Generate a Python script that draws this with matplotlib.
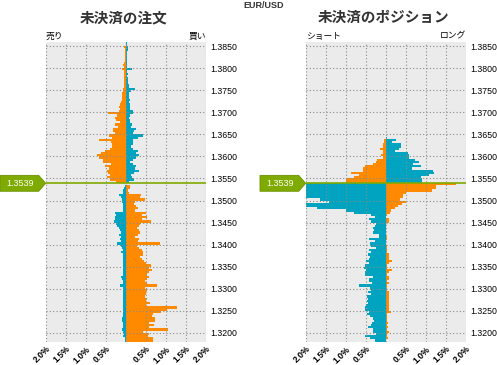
import numpy as np
import matplotlib.pyplot as plt
from matplotlib.patches import Polygon
from matplotlib.transforms import blended_transform_factory

plt.rcParams['font.family'] = ['Noto Sans CJK JP', 'DejaVu Sans']

# price bins of 0.0005, listed from the top of the chart (1.3860) downwards
top_price = 1.3860
step = 0.0005
current = 1.3539

# open orders, % (left = sell side, right = buy side)
order_sell = [
    0.00, 0.00, 0.04, 0.02, 0.03, 0.03, 0.03, 0.03, 0.03, 0.04,
    0.07, 0.05, 0.09, 0.04, 0.04, 0.04, 0.04, 0.04, 0.05, 0.04,
    0.05, 0.06, 0.07, 0.09, 0.09, 0.10, 0.10, 0.11, 0.15, 0.16,
    0.14, 0.16, 0.44, 0.22, 0.27, 0.25, 0.15, 0.27, 0.19, 0.32,
    0.32, 0.27, 0.41, 0.35, 0.66, 0.37, 0.35, 0.35, 0.40, 0.53,
    0.62, 0.72, 0.67, 0.58, 0.56, 0.37, 0.52, 0.43, 0.47, 0.45,
    0.40, 0.46, 0.39, 0.24, 0.00, 0.02, 0.04, 0.06, 0.08, 0.17,
    0.13, 0.10, 0.10, 0.06, 0.06, 0.08, 0.06, 0.27, 0.25, 0.27,
    0.28, 0.29, 0.25, 0.23, 0.16, 0.14, 0.12, 0.16, 0.12, 0.14,
    0.12, 0.21, 0.12, 0.10, 0.08, 0.12, 0.08, 0.06, 0.06, 0.08,
    0.06, 0.08, 0.06, 0.06, 0.06, 0.06, 0.13, 0.10, 0.08, 0.06,
    0.14, 0.08, 0.08, 0.06, 0.06, 0.06, 0.06, 0.06, 0.06, 0.06,
    0.08, 0.06, 0.06, 0.06, 0.06, 0.09, 0.09, 0.08, 0.06, 0.07,
    0.09, 0.06, 0.04, 0.06, 0.03, 0.03]
order_buy = [
    0.03, 0.04, 0.05, 0.05, 0.02, 0.02, 0.02, 0.02, 0.03, 0.02,
    0.03, 0.02, 0.15, 0.04, 0.05, 0.04, 0.06, 0.05, 0.06, 0.07,
    0.08, 0.23, 0.13, 0.09, 0.08, 0.09, 0.10, 0.09, 0.10, 0.11,
    0.10, 0.18, 0.17, 0.11, 0.09, 0.11, 0.10, 0.15, 0.14, 0.26,
    0.20, 0.18, 0.44, 0.30, 0.19, 0.17, 0.17, 0.13, 0.18, 0.30,
    0.25, 0.34, 0.25, 0.18, 0.11, 0.18, 0.26, 0.23, 0.33, 0.20,
    0.14, 0.16, 0.20, 0.07, 0.00, 0.11, 0.11, 0.05, 0.08, 0.38,
    0.36, 0.48, 0.23, 0.21, 0.26, 0.30, 0.23, 0.50, 0.40, 0.52,
    0.40, 0.63, 0.36, 0.33, 0.28, 0.34, 0.36, 0.30, 0.23, 0.32,
    0.30, 0.86, 0.29, 0.32, 0.40, 0.44, 0.43, 0.36, 0.40, 0.46,
    0.51, 0.63, 0.57, 0.65, 0.57, 0.54, 0.57, 0.53, 0.48, 0.53,
    0.78, 0.48, 0.54, 0.51, 0.50, 0.48, 0.53, 0.51, 0.61, 0.51,
    1.28, 1.04, 0.88, 0.68, 0.65, 0.73, 0.72, 0.57, 0.71, 0.59,
    1.05, 0.43, 0.57, 0.55, 0.68, 0.68]

# open positions, % (left = short, right = long); 2.60 runs off the scale
pos_short = [
    0.00, 0.00, 0.00, 0.00, 0.00, 0.00, 0.00, 0.00, 0.00, 0.00,
    0.00, 0.00, 0.00, 0.00, 0.00, 0.00, 0.00, 0.00, 0.00, 0.00,
    0.00, 0.00, 0.00, 0.00, 0.00, 0.00, 0.00, 0.00, 0.00, 0.00,
    0.00, 0.00, 0.00, 0.00, 0.00, 0.00, 0.00, 0.00, 0.00, 0.00,
    0.00, 0.00, 0.00, 0.00, 0.04, 0.04, 0.06, 0.06, 0.14, 0.08,
    0.08, 0.12, 0.08, 0.21, 0.24, 0.31, 0.52, 0.56, 0.56, 0.87,
    0.68, 0.79, 0.99, 0.99, 2.60, 2.60, 2.60, 2.60, 2.60, 2.60,
    2.60, 1.64, 1.43, 2.60, 2.60, 1.71, 1.00, 0.79, 0.38, 0.27,
    0.42, 0.37, 0.24, 0.27, 0.33, 0.29, 0.31, 0.17, 0.17, 0.42,
    0.27, 0.39, 0.37, 0.24, 0.43, 0.37, 0.45, 0.40, 0.43, 0.49,
    0.43, 0.52, 0.54, 0.50, 0.53, 0.53, 0.31, 0.41, 0.42, 0.35,
    0.66, 0.39, 0.38, 0.45, 0.37, 0.48, 0.45, 0.48, 0.45, 0.50,
    0.52, 0.52, 0.42, 0.48, 0.39, 0.31, 0.29, 0.35, 0.37, 0.45,
    0.33, 0.31, 0.24, 0.52, 0.39, 0.27]
pos_long = [
    0.00, 0.00, 0.00, 0.00, 0.00, 0.00, 0.00, 0.00, 0.00, 0.00,
    0.00, 0.00, 0.00, 0.00, 0.00, 0.00, 0.00, 0.00, 0.00, 0.00,
    0.00, 0.00, 0.00, 0.00, 0.00, 0.00, 0.00, 0.00, 0.00, 0.00,
    0.00, 0.00, 0.00, 0.00, 0.00, 0.00, 0.00, 0.00, 0.00, 0.00,
    0.00, 0.00, 0.00, 0.03, 0.26, 0.15, 0.38, 0.38, 0.34, 0.23,
    0.55, 0.57, 0.58, 0.73, 0.83, 0.69, 0.88, 0.65, 1.19, 1.21,
    1.08, 0.88, 0.90, 0.90, 1.76, 1.26, 1.26, 1.15, 0.51, 0.44,
    0.44, 0.36, 0.50, 0.40, 0.30, 0.23, 0.12, 0.11, 0.04, 0.01,
    0.09, 0.07, 0.01, 0.01, 0.01, 0.01, 0.01, 0.01, 0.04, 0.04,
    0.01, 0.01, 0.03, 0.04, 0.04, 0.04, 0.07, 0.07, 0.09, 0.15,
    0.07, 0.03, 0.04, 0.15, 0.07, 0.04, 0.07, 0.07, 0.04, 0.09,
    0.04, 0.04, 0.04, 0.07, 0.07, 0.09, 0.09, 0.09, 0.07, 0.09,
    0.07, 0.07, 0.13, 0.04, 0.04, 0.04, 0.03, 0.05, 0.04, 0.05,
    0.04, 0.07, 0.04, 0.04, 0.05, 0.00]

x_ticks = [-2.0, -1.5, -1.0, -0.5, 0.0, 0.5, 1.0, 1.5, 2.0]
x_labels = ['2.0%', '1.5%', '1.0%', '0.5%', '', '0.5%', '1.0%', '1.5%', '2.0%']
y_ticks = [1.3200, 1.3250, 1.3300, 1.3350, 1.3400, 1.3450, 1.3500,
           1.3550, 1.3600, 1.3650, 1.3700, 1.3750, 1.3800, 1.3850]

ORANGE = '#ff8a00'
TEAL = '#00a4c0'
GREEN = '#7fab00'
BG = '#ebebeb'
W, H = 497, 365

fig = plt.figure(figsize=(W / 100, H / 100), dpi=100)

levels = top_price - step * (np.arange(len(order_sell)) + 1)   # bottom edge of each bin
above = levels + step / 2 > current


def panel(left_px, sell, buy, title, title_x, lab_l, lab_r):
    ax = fig.add_axes([left_px / W, (H - 341.7) / H, 160 / W, 300 / H])
    ax.set_facecolor(BG)
    ax.barh(levels, -np.array(sell), height=step, align='edge',
            color=np.where(above, ORANGE, TEAL), linewidth=0, zorder=2)
    ax.barh(levels, np.array(buy), height=step, align='edge',
            color=np.where(above, TEAL, ORANGE), linewidth=0, zorder=2)
    ax.set_xlim(-2, 2)
    ax.set_ylim(1.3180, 1.3860)
    ax.set_xticks(x_ticks)
    ax.set_xticklabels(x_labels, rotation=45, ha='right', va='top',
                       rotation_mode='anchor', fontsize=6.2, fontweight='bold',
                       family='Liberation Sans')
    ax.set_yticks(y_ticks)
    ax.set_yticklabels(['%.4f' % v for v in y_ticks], fontsize=6.3, family='Liberation Sans')
    ax.yaxis.tick_right()
    ax.tick_params(length=0)
    ax.tick_params(axis='x', pad=2)
    ax.tick_params(axis='y', pad=3)
    for s in ax.spines.values():
        s.set_visible(False)
    ax.grid(True, color='#8a8a8a', linestyle=(0, (1, 2)), linewidth=0.8, zorder=3)
    ax.set_axisbelow(False)

    # current price line + label
    ax.axhline(current, color=GREEN, lw=1.2, zorder=4)
    tr = blended_transform_factory(ax.transAxes, ax.transData)
    hh = 0.0018
    x0, x1 = -45.7 / 160, -7 / 160
    ax.add_patch(Polygon([(x0, current - hh), (x1, current - hh), (0, current),
                          (x1, current + hh), (x0, current + hh)], closed=True,
                         transform=tr, clip_on=False, facecolor=GREEN,
                         edgecolor='#6a9000', lw=0.6, zorder=5))
    ax.text(-0.16, current, '%.4f' % current, transform=tr, ha='center', va='center',
            color='white', fontsize=6.5, family='Liberation Sans', zorder=6)

    fig.text(title_x / W, 1 - 17 / H, title, ha='center', va='center',
             fontsize=10.5, fontweight='bold', color='#333333')
    fig.text(left_px / W, 1 - 36 / H, lab_l, ha='left', va='center', fontsize=6.3)
    fig.text((left_px + 160) / W, 1 - 36 / H, lab_r, ha='right', va='center', fontsize=6.3)
    return ax


panel(45.7, order_sell, order_buy, '未決済の注文', 124, '売り', '買い')
panel(305.7, pos_short, pos_long, '未決済のポジション', 383, 'ショート', 'ロング')

fig.text(264 / W, 1 - 5 / H, 'EUR/USD', ha='center', va='center', fontsize=6.5,
         fontweight='bold', color='#333333', family='Liberation Sans')

fig.savefig('out.png', dpi=100)
